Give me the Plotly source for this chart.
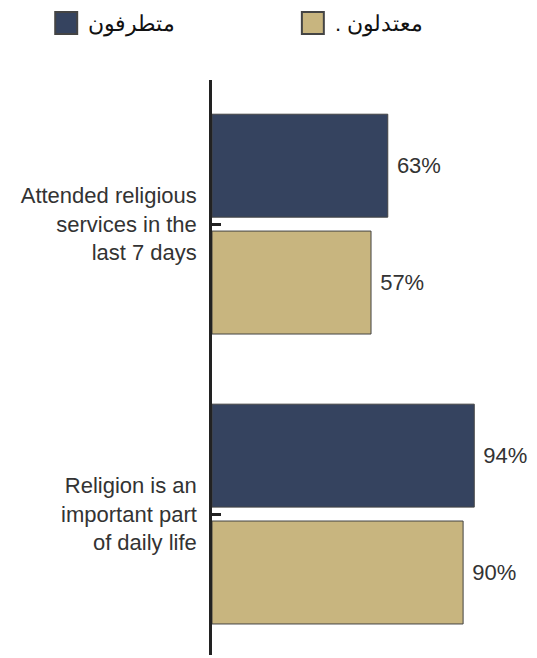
import plotly.graph_objects as go

categories = ["Attended religious<br>services in the<br>last 7 days",
              "Religion is an<br>important part<br>of daily life"]
cat_pos = [0, 1]
series_names = ["متطرفون", ". معتدلون"]
extremists = [63, 94]
moderates = [57, 90]
colors = ["#35435F", "#C8B57F"]

FONT = "Liberation Sans, Arial, sans-serif"
TXT = "#333333"

W, H = 537, 658
L, R, T, B = 212, 45.6, 80, 3
PW, PH = W - L - R, H - T - B

def px_x(p):
    return (p - L) / PW

def px_y(p):
    return (H - B - p) / PH

fig = go.Figure()
for name, vals, col in zip(series_names, [extremists, moderates], colors):
    fig.add_trace(go.Bar(
        y=cat_pos, x=vals, orientation="h", name=name, showlegend=False,
        marker=dict(color=col, line=dict(color="#444444", width=1)),
        text=["\u00a0" + f"{v}%" for v in vals], textposition="outside",
        textfont=dict(family=FONT, size=22, color=TXT), cliponaxis=False,
    ))

# legend drawn as swatches + labels (square size larger than plotly's legend cap)
legend_left = [55, 302]
for name, col, lx in zip(series_names, colors, legend_left):
    fig.add_shape(type="rect", xref="paper", yref="paper",
                  x0=px_x(lx), x1=px_x(lx + 22), y0=px_y(34), y1=px_y(12),
                  fillcolor=col, line=dict(color="#444444", width=2))
    fig.add_annotation(xref="paper", yref="paper", x=px_x(lx + 31), y=px_y(24),
                       xanchor="left", yanchor="middle", showarrow=False,
                       text=name, font=dict(family=FONT, size=22, color="#111111"))

fig.update_layout(
    width=W, height=H,
    margin=dict(l=L, r=R, t=T, b=B),
    paper_bgcolor="white", plot_bgcolor="white",
    barmode="group", bargap=0.194, bargroupgap=0.119,
    font=dict(family=FONT, color=TXT),
    showlegend=False,
    xaxis=dict(range=[0, 100], visible=False),
    yaxis=dict(range=[1.486, -0.497], tickvals=cat_pos, ticktext=categories,
               showline=True, linecolor="#222222", linewidth=2.5,
               ticks="inside", ticklen=9, tickwidth=2.5, tickcolor="#222222",
               ticklabelstandoff=8, showgrid=False, zeroline=False,
               tickfont=dict(family=FONT, size=22, color=TXT)),
)

fig.write_html("out.html")
